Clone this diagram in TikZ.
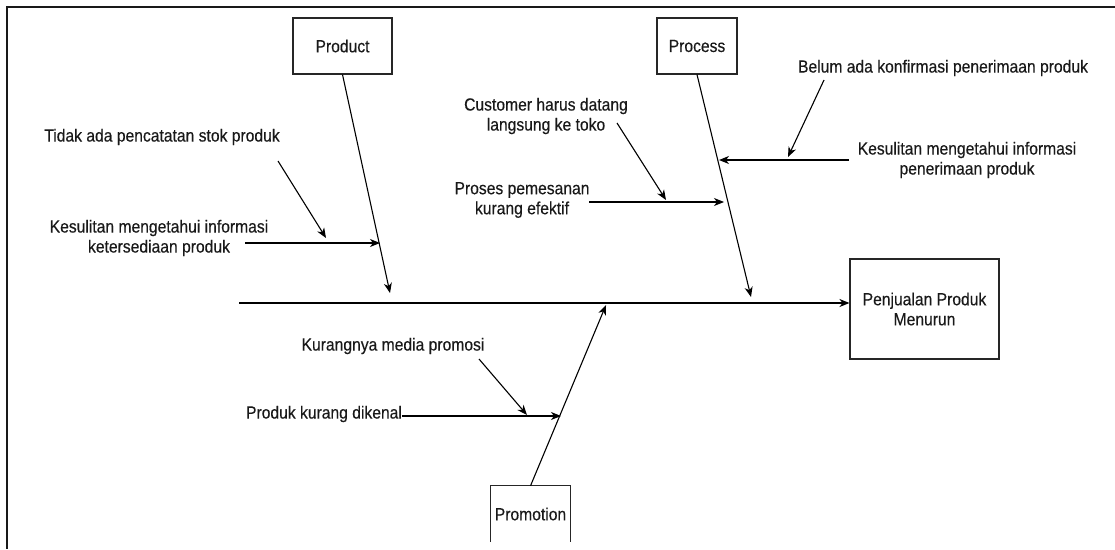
\documentclass[tikz,border=0pt]{standalone}
\usepackage{fontspec}
\setmainfont{Liberation Sans}[FakeStretch=0.89, FakeBold=0.35]
\usetikzlibrary{arrows.meta}
\newcommand\lblfont{\fontsize{17.6}{20}\selectfont}
\begin{document}
\begin{tikzpicture}[x=1pt,y=-1pt,
  box/.style={draw=black!85, line width=1.1pt, inner sep=0pt, align=center, font=\lblfont, text=black!90},
  lbl/.style={inner sep=0pt, align=center, font=\lblfont, text=black!90},
  arr/.style={line width=1.1pt, draw=black, -{Stealth[length=10pt,width=8pt,inset=3pt]}},
  frame/.style={line width=2pt, draw=black!90}]
\useasboundingbox (0,0) rectangle (1115,549);
% frame
\draw[frame] (1115,7) -- (7,7) -- (7,549);

% boxes
\node[box, minimum width=99pt, minimum height=56pt] (product) at (342.5,46) {Product};
\node[box, minimum width=80pt, minimum height=56pt] (process) at (697,46) {Process};
\node[box, minimum width=149pt, minimum height=100pt] (effect) at (924.5,309) {Penjualan Produk\\Menurun};
\node[lbl, minimum width=79pt, minimum height=56pt] (promotion) at (530.5,514) {Promotion};
\draw[line width=1.1pt, draw=black!85] (promotion.south west) -- (promotion.north west) -- (promotion.north east) -- (promotion.south east);

% spine
\coordinate (spineL) at (239,303);
\draw[arr] (spineL) -- (spineL -| effect.west);

% bone tips
\coordinate (prodTip) at (390,293);
\coordinate (procTip) at (751,297);
\coordinate (promTip) at (606,305);
\draw[arr] (product.south) -- (prodTip);
\draw[arr] (process.south) -- (procTip);
\draw[arr] (promotion.north) -- (promTip);

% product causes
\node[lbl] (c1) at (162,137) {Tidak ada pencatatan stok produk};
\node[lbl] (c2) at (159,238) {Kesulitan mengetahui informasi\\ketersediaan produk};
\coordinate (c2s) at (245,243);
\coordinate (c2e) at (380,243);
\coordinate (c1s) at (278,161);
\coordinate (c1e) at (326,238);
\draw[arr] (c2s) -- (c2e);
\draw[arr] (c1s) -- (c1e);

% process causes
\node[lbl] (c3) at (546,116) {Customer harus datang\\langsung ke toko};
\node[lbl] (c4) at (522,200) {Proses pemesanan\\kurang efektif};
\coordinate (c4s) at (589,202);
\coordinate (c4e) at (724,202);
\coordinate (c3s) at (617,123);
\coordinate (c3e) at (666,200);
\draw[arr] (c4s) -- (c4e);
\draw[arr] (c3s) -- (c3e);

\node[lbl] (c5) at (943,68) {Belum ada konfirmasi penerimaan produk};
\node[lbl] (c6) at (967,160) {Kesulitan mengetahui informasi\\penerimaan produk};
\coordinate (c6s) at (849,160);
\coordinate (c6e) at (719,160);
\coordinate (c5s) at (824,80);
\coordinate (c5e) at (788,157);
\draw[arr] (c6s) -- (c6e);
\draw[arr] (c5s) -- (c5e);

% promotion causes
\node[lbl] (c7) at (393,346) {Kurangnya media promosi};
\node[lbl] (c8) at (324,414) {Produk kurang dikenal};
\coordinate (c8s) at (402,416);
\coordinate (c8e) at (561,416);
\coordinate (c7s) at (479,359);
\coordinate (c7e) at (527,415);
\draw[arr] (c8s) -- (c8e);
\draw[arr] (c7s) -- (c7e);
\end{tikzpicture}
\end{document}
